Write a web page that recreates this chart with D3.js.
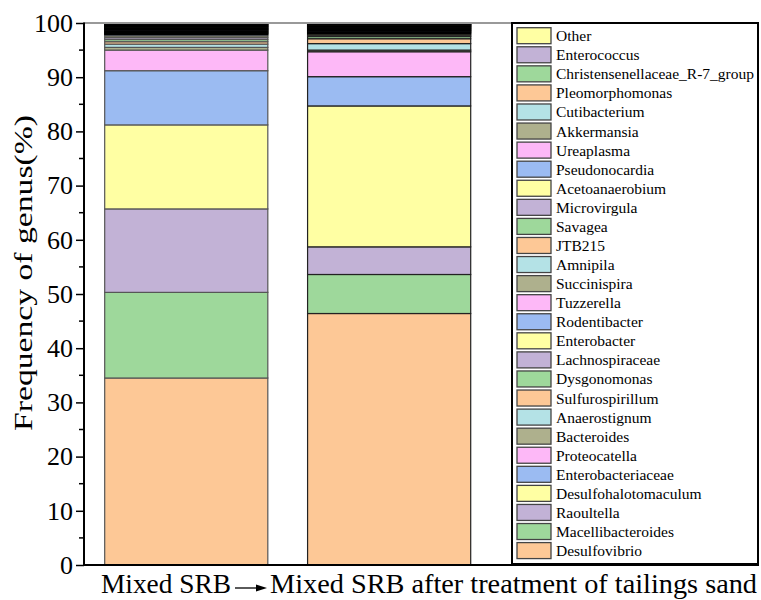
<!DOCTYPE html>
<html>
<head>
<meta charset="utf-8">
<script src="https://cdn.jsdelivr.net/npm/d3@7"></script>
<style>
html,body{margin:0;padding:0;background:#fff;}
svg{display:block;font-family:"Liberation Serif","Times New Roman",serif;}
</style>
</head>
<body>
<svg id="chart" width="761" height="600"></svg>
<script>
// ---- data ----
const categories = ["Mixed SRB", "Mixed SRB after treatment of tailings sand"];
// genera, bottom to top of the stack
const genera = ["Desulfovibrio","Macellibacteroides","Raoultella","Desulfohalotomaculum","Enterobacteriaceae","Proteocatella","Bacteroides","Anaerostignum","Sulfurospirillum","Dysgonomonas","Lachnospiraceae","Enterobacter","Rodentibacter","Tuzzerella","Succinispira","Amnipila","JTB215","Savagea","Microvirgula","Acetoanaerobium","Pseudonocardia","Ureaplasma","Akkermansia","Cutibacterium","Pleomorphomonas","Christensenellaceae_R-7_group","Enterococcus","Other"];
const mixedSRB = [34.5,15.8,15.4,15.5,10.0,3.8,0.5,0.6,0.45,0.4,0.35,0.3,0.25,0.2,0.17,0.16,0.15,0.15,0.14,0.14,0.14,0.14,0.13,0.13,0.13,0.13,0.12,0.12];
const mixedSRBTreated = [46.4,7.2,5.1,26.0,5.4,4.6,0.3,1.2,0.9,0.4,0.25,0.25,0.2,0.15,0.15,0.13,0.13,0.13,0.12,0.12,0.12,0.12,0.11,0.11,0.11,0.1,0.1,0.1];
const seriesValues = [mixedSRB, mixedSRBTreated];
const yTicks = [0,10,20,30,40,50,60,70,80,90,100];
const yTitle = "Frequency of genus(%)";
const palette = ["#FDC896","#9ED89B","#C2B2D6","#FFFFA3","#9BBBF2","#FDB8F7","#AEB08D","#B4E2E6"];

// ---- layout ----
const svg = d3.select("#chart");
const L = 84, T = 23, B = 565, LEG = 512, R = 758;

const y = d3.scaleLinear().domain([0,100]).range([B, T]);
const x = d3.scaleBand().domain(categories).range([L, 491.4]).paddingInner(0.196).paddingOuter(0.102);
const color = d3.scaleOrdinal().domain(genera).range(palette);

// build stacked table
const table = categories.map((c,i) => {
  const row = {cat: c};
  genera.forEach((g,j) => row[g] = seriesValues[i][j]);
  return row;
});
const stack = d3.stack().keys(genera)(table);

const barStroke = ["#555", "#222"];
stack.forEach(layer => {
  svg.append("g").selectAll("rect").data(layer).join("rect")
    .attr("x", d => x(d.data.cat))
    .attr("width", x.bandwidth())
    .attr("y", d => y(d[1]))
    .attr("height", d => y(d[0]) - y(d[1]))
    .attr("fill", color(layer.key))
    .attr("stroke", (d,i) => (d[1] - d[0]) < 0.22 ? "#000" : barStroke[i])
    .attr("stroke-width", 1.2);
});

// frame
svg.append("line").attr("x1", L).attr("x2", LEG).attr("y1", T).attr("y2", T)
  .attr("stroke", "#999").attr("stroke-width", 2);

// y axis
const yAxis = d3.axisLeft(y).tickValues(yTicks).tickSize(8).tickPadding(3).tickFormat(d3.format("d"));
const gy = svg.append("g").attr("transform", `translate(${L},0)`).call(yAxis);
gy.select(".domain").remove();
gy.selectAll(".tick line").attr("stroke", "#000").attr("stroke-width", 1.5);
gy.selectAll(".tick text").attr("font-size", 26).attr("font-family", "Liberation Serif").attr("fill", "#000");
// minor ticks
const minor = d3.range(5, 100, 10);
svg.append("g").selectAll("line").data(minor).join("line")
  .attr("x1", L - 5).attr("x2", L).attr("y1", d => y(d)).attr("y2", d => y(d))
  .attr("stroke", "#000").attr("stroke-width", 1.5);

svg.append("line").attr("x1", L).attr("x2", L).attr("y1", T - 0.5).attr("y2", B + 1)
  .attr("stroke", "#000").attr("stroke-width", 2);
svg.append("line").attr("x1", L - 1).attr("x2", R + 1).attr("y1", B).attr("y2", B)
  .attr("stroke", "#000").attr("stroke-width", 2);

// y title
svg.append("text")
  .attr("transform", `translate(32,273) rotate(-90)`)
  .attr("text-anchor", "middle")
  .attr("font-size", 25)
  .attr("textLength", 316)
  .attr("lengthAdjust", "spacingAndGlyphs")
  .text(yTitle);

// x label : categories joined by an arrow
const xl = svg.append("g");
xl.append("text").attr("x", 101).attr("y", 593).attr("font-size", 27.5)
  .attr("textLength", 130).attr("lengthAdjust", "spacingAndGlyphs").text(categories[0]);
xl.append("line").attr("x1", 235).attr("x2", 258).attr("y1", 588).attr("y2", 588)
  .attr("stroke", "#000").attr("stroke-width", 1.3);
xl.append("path").attr("d", "M256,584.5 L267,588 L256,591.5 Z").attr("fill", "#000");
xl.append("text").attr("x", 270).attr("y", 593).attr("font-size", 27.5)
  .attr("textLength", 487).attr("lengthAdjust", "spacingAndGlyphs").text(categories[1]);

// legend
svg.append("rect").attr("x", LEG).attr("y", T).attr("width", R - LEG).attr("height", B - T - 1)
  .attr("fill", "none").attr("stroke", "#000").attr("stroke-width", 2);
const legendOrder = genera.slice().reverse();
const lg = svg.append("g").selectAll("g").data(legendOrder).join("g")
  .attr("transform", (d,i) => `translate(517,${35.7 + i*19.07})`);
lg.append("rect").attr("x", 0).attr("y", -8).attr("width", 34).attr("height", 16)
  .attr("fill", d => color(d)).attr("stroke", "#444").attr("stroke-width", 1.3);
lg.append("text").attr("x", 39).attr("y", 5.5).attr("font-size", 15.5).attr("fill", "#000").text(d => d);
</script>
</body>
</html>
